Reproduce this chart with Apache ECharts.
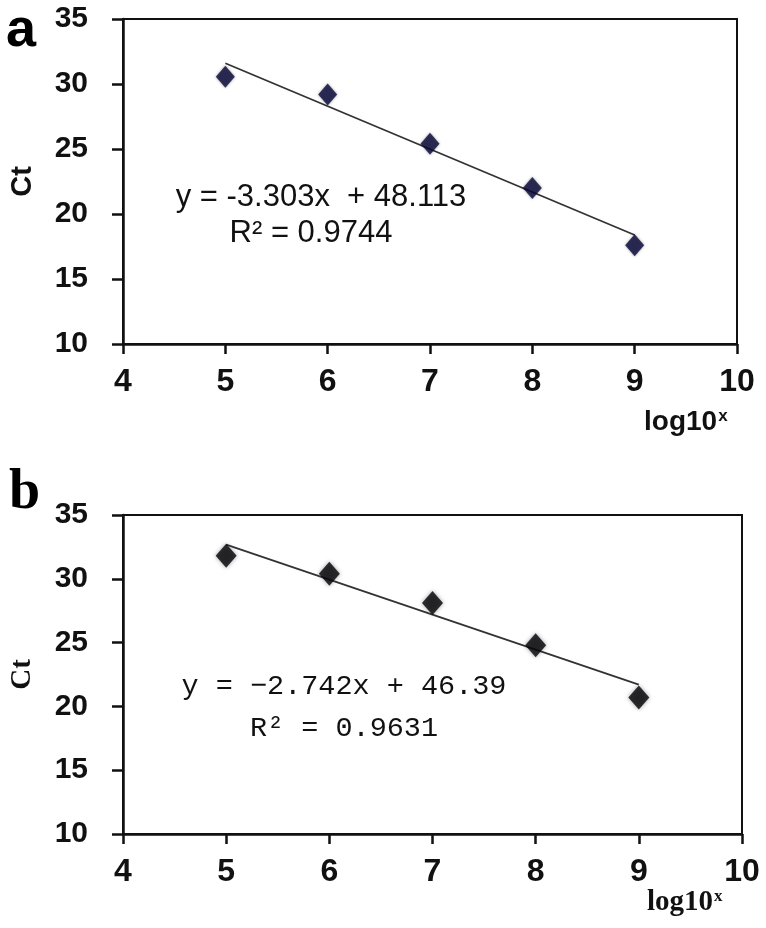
<!DOCTYPE html>
<html>
<head>
<meta charset="utf-8">
<script src="https://cdn.jsdelivr.net/npm/echarts@6/dist/echarts.min.js"></script>
<style>
  html, body { margin: 0; padding: 0; background: #fff; }
  #chart { width: 766px; height: 928px; }
</style>
</head>
<body>
<div id="chart"></div>
<script>
  // 数据
  const xValues = [5, 6, 7, 8, 9]
  const ctA = [30.55, 29.2, 25.4, 22.0, 17.6]
  const ctB = [31.8, 30.4, 28.1, 24.8, 20.7]
  const fitA = { slope: -3.303, intercept: 48.113 }
  const fitB = { slope: -2.742, intercept: 46.39 }
  const trendX = [5, 9]
  const eqA = ['y = -3.303x  + 48.113', 'R² = 0.9744']
  const eqB = ['y = −2.742x + 46.39', 'R² = 0.9631']

  const sans = "'Liberation Sans', Arial, sans-serif"
  const serif = "'Liberation Serif', 'DejaVu Serif', serif"
  const mono = "'Liberation Mono', 'DejaVu Sans Mono', monospace"

  function pairs(xs, ys) {
    return xs.map((x, i) => [x, ys[i]])
  }
  function trend(fit) {
    return trendX.map(x => [x, +(fit.slope * x + fit.intercept).toFixed(3)])
  }

  function xAxisOpt(idx) {
    return {
      type: 'value', gridIndex: idx, min: 4, max: 10, interval: 1,
      axisLine: { show: true, onZero: false, lineStyle: { color: '#111', width: 2.5 } },
      axisTick: { show: true, length: 10, lineStyle: { color: '#111', width: 2.5 } },
      axisLabel: { margin: 22, fontSize: 32, fontWeight: 'bold', color: '#111', fontFamily: sans },
      splitLine: { show: false }
    }
  }
  function yAxisOpt(idx, fam) {
    return {
      type: 'value', gridIndex: idx, min: 10, max: 35, interval: 5,
      name: 'Ct', nameLocation: 'middle', nameGap: 86, nameRotate: 90,
      nameTextStyle: { fontSize: 29, fontWeight: 'bold', color: '#111', fontFamily: fam },
      axisLine: { show: true, onZero: false, lineStyle: { color: '#111', width: 2.5 } },
      axisTick: { show: true, length: 11, lineStyle: { color: '#111', width: 2.5 } },
      axisLabel: { margin: 35, fontSize: 30, fontWeight: 'bold', color: '#111', fontFamily: sans },
      splitLine: { show: false }
    }
  }

  const chart = echarts.init(document.getElementById('chart'), null, { renderer: 'canvas' })
  chart.setOption({
    backgroundColor: '#fff',
    animation: false,
    grid: [
      { left: 118, top: 19, right: 29, bottom: 584, show: true, borderColor: '#111', borderWidth: 2 },
      { left: 118, top: 515, right: 24, bottom: 94, show: true, borderColor: '#111', borderWidth: 2 }
    ],
    xAxis: [xAxisOpt(0), xAxisOpt(1)],
    yAxis: [yAxisOpt(0, sans), yAxisOpt(1, serif)],
    graphic: [
      { type: 'text', left: 6, top: 4, style: { text: 'a', fontSize: 54, fontWeight: 'bold', fill: '#000', fontFamily: sans } },
      { type: 'text', left: 9, top: 466, style: { text: 'b', fontSize: 56, fontWeight: 'bold', fill: '#000', fontFamily: serif } },
      { type: 'text', x: 644, y: 422, style: {
          text: '{b|log10}{s|x}', fill: '#111', verticalAlign: 'middle',
          rich: {
            b: { fontSize: 28, fontWeight: 'bold', fontFamily: sans, verticalAlign: 'bottom' },
            s: { fontSize: 17, fontWeight: 'bold', fontFamily: sans, verticalAlign: 'bottom', padding: [0, 0, 11, 1] }
          } } },
      { type: 'text', x: 647, y: 903, style: {
          text: '{b|log10}{s|x}', fill: '#111', verticalAlign: 'middle',
          rich: {
            b: { fontSize: 29, fontWeight: 'bold', fontFamily: serif, verticalAlign: 'bottom' },
            s: { fontSize: 17, fontWeight: 'bold', fontFamily: serif, verticalAlign: 'bottom', padding: [0, 0, 12, 1] }
          } } },
      { type: 'text', x: 321, y: 197, style: { text: eqA[0], fontSize: 31, fill: '#111', fontFamily: sans, align: 'center', verticalAlign: 'middle' } },
      { type: 'text', x: 311, y: 233, style: { text: eqA[1], fontSize: 31, fill: '#111', fontFamily: sans, align: 'center', verticalAlign: 'middle' } },
      { type: 'text', x: 344, y: 686, style: { text: eqB[0], fontSize: 28.5, fill: '#111', fontFamily: mono, align: 'center', verticalAlign: 'middle' } },
      { type: 'text', x: 344, y: 728, style: { text: eqB[1], fontSize: 28.5, fill: '#111', fontFamily: mono, align: 'center', verticalAlign: 'middle' } }
    ],
    series: [
      {
        type: 'line', xAxisIndex: 0, yAxisIndex: 0, data: trend(fitA), showSymbol: false,
        lineStyle: { color: '#333', width: 1.8 }, z: 2
      },
      {
        type: 'scatter', xAxisIndex: 0, yAxisIndex: 0, data: pairs(xValues, ctA),
        symbol: 'diamond', symbolSize: [19, 22],
        itemStyle: { color: '#08083a', shadowBlur: 3, shadowColor: 'rgba(0,0,0,0.45)' }, z: 3
      },
      {
        type: 'line', xAxisIndex: 1, yAxisIndex: 1, data: trend(fitB), showSymbol: false,
        lineStyle: { color: '#333', width: 1.8 }, z: 2
      },
      {
        type: 'scatter', xAxisIndex: 1, yAxisIndex: 1, data: pairs(xValues, ctB),
        symbol: 'diamond', symbolSize: [21, 24],
        itemStyle: { color: '#030303', shadowBlur: 4, shadowColor: 'rgba(60,60,90,0.6)' }, z: 3
      }
    ]
  })
</script>
</body>
</html>
